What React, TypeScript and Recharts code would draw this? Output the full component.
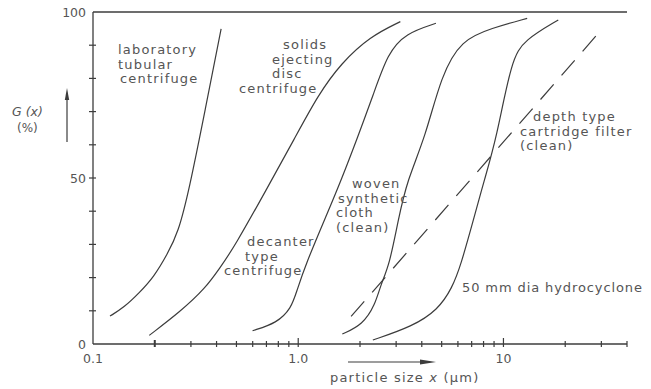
import { LineChart, Line, XAxis, YAxis, ReferenceLine } from "recharts";

// grade efficiency curves G(x) in %, particle size x in µm (log scale)
const tubularX = [0.121, 0.142, 0.168, 0.198, 0.23, 0.26, 0.294, 0.352, 0.421];
const tubularG = [8.4, 11.1, 15.4, 20.2, 27, 33.5, 46.4, 70.5, 94.9];

const discX = [0.188, 0.267, 0.353, 0.415, 0.488, 0.698, 0.962, 1.249, 1.62, 2.235, 3.145];
const discG = [2.6, 9.8, 16.8, 22.9, 29.2, 46.4, 62, 75, 84.6, 92.6, 97.1];

const decanterX = [0.599, 0.787, 0.925, 0.982, 1.085, 1.409, 1.62, 1.94, 2.32, 2.73, 3.337, 4.69];
const decanterG = [4.0, 6.3, 10.8, 15.8, 23.9, 40.4, 49.4, 62, 75, 87.6, 93.6, 96.6];

const clothX = [1.64, 2.06, 2.37, 2.52, 2.786, 3.07, 3.4, 4.16, 4.98, 6.24, 8.74, 13.05];
const clothG = [3.0, 5.8, 11.8, 17.8, 23.9, 37.4, 49.4, 62.2, 81, 91.6, 95.1, 98.1];

const cycloneX = [2.31, 3.61, 4.79, 5.62, 6.21, 7.14, 8.07, 9.25, 10.94, 12.65, 18.5];
const cycloneG = [1.2, 5.3, 10.3, 16.8, 23.9, 37.4, 49.4, 62, 85.6, 91.6, 97.6];

const cartridgeX = [1.81, 29.0];
const cartridgeG = [8.3, 93.6];

const xTicks = [0.1, 0.2, 0.3, 0.4, 0.5, 0.6, 0.7, 0.8, 0.9, 1, 2, 3, 4, 5, 6, 7, 8, 9, 10, 20, 30, 40];
const xTickLabels: Record<string, string> = { "0.1": "0.1", "1": "1.0", "10": "10" };
const yTicks = [0, 10, 20, 30, 40, 50, 60, 70, 80, 90, 100];
const yTickLabels: Record<string, string> = { "0": "0", "50": "50", "100": "100" };

const zip = (xs: number[], gs: number[]) => xs.map((x, i) => ({ x, g: gs[i] }));

const INK = "#3c3c3c";
const TEXT = "#555";
const FONT = "'DejaVu Sans', sans-serif";

function XTick(props: any) {
  const { x, y, payload } = props;
  const v = payload.value;
  const label = xTickLabels[String(v)];
  const major = v === 1 || v === 10;
  return (
    <g>
      {v !== 0.1 && (
        <line
          x1={x}
          x2={x}
          y1={y - (major ? 6 : v === 0.2 ? 4 : 3)}
          y2={y + 3}
          stroke={INK}
          strokeWidth={v === 0.2 ? 2 : 1.2}
        />
      )}
      {label && (
        <text x={x} y={y + 19} textAnchor="middle" fontSize={12.5} fill={TEXT} fontFamily={FONT}>
          {label}
        </text>
      )}
    </g>
  );
}

function YTick(props: any) {
  const { x, y, payload } = props;
  const v = payload.value;
  const label = yTickLabels[String(v)];
  return (
    <g>
      {v !== 0 && v !== 100 && (
        <line x1={x - 4} x2={x + 3} y1={y} y2={y} stroke={INK} strokeWidth={1.2} />
      )}
      {label && (
        <text x={x - 7} y={y + 4.5} textAnchor="end" fontSize={12.5} fill={TEXT} fontFamily={FONT}>
          {label}
        </text>
      )}
    </g>
  );
}

function Note({ x, y, lines }: { x: number[]; y: number; lines: string[] }) {
  return (
    <>
      {lines.map((t, i) => (
        <text
          key={i}
          x={x[i]}
          y={y + i * 14.5}
          fontSize={13}
          letterSpacing={1.2}
          fill={TEXT}
          fontFamily={FONT}
        >
          {t}
        </text>
      ))}
    </>
  );
}

export default function App() {
  const series = [
    { key: "tubular", data: zip(tubularX, tubularG), dash: undefined },
    { key: "disc", data: zip(discX, discG), dash: undefined },
    { key: "decanter", data: zip(decanterX, decanterG), dash: undefined },
    { key: "cloth", data: zip(clothX, clothG), dash: undefined },
    { key: "cyclone", data: zip(cycloneX, cycloneG), dash: undefined },
    { key: "cartridge", data: zip(cartridgeX, cartridgeG), dash: "20 12" },
  ];
  return (
    <div style={{ position: "absolute", left: 0, top: 0, width: 651, height: 389, background: "#fff" }}>
      <LineChart width={651} height={389} margin={{ top: 12, right: 24, bottom: 44, left: 92 }}>
        <XAxis
          type="number"
          dataKey="x"
          scale="log"
          domain={[0.1, 40]}
          allowDataOverflow
          ticks={xTicks}
          interval={0}
          height={1}
          tickSize={0}
          tickMargin={0}
          tickLine={false}
          axisLine={{ stroke: INK, strokeWidth: 1.3 }}
          tick={<XTick />}
        />
        <YAxis
          type="number"
          dataKey="g"
          domain={[0, 100]}
          ticks={yTicks}
          interval={0}
          width={1}
          tickSize={0}
          tickMargin={0}
          tickLine={false}
          axisLine={{ stroke: INK, strokeWidth: 1.3 }}
          tick={<YTick />}
        />
        <ReferenceLine y={100} stroke={INK} strokeWidth={1.3} />
        {series.map((s) => (
          <Line
            key={s.key}
            data={s.data}
            dataKey="g"
            type="basis"
            stroke={INK}
            strokeWidth={1.2}
            strokeDasharray={s.dash}
            dot={false}
            activeDot={false}
            isAnimationActive={false}
          />
        ))}
      </LineChart>
      <svg
        width={651}
        height={389}
        style={{ position: "absolute", left: 0, top: 0, pointerEvents: "none" }}
      >
        <Note x={[118, 118, 120]} y={54} lines={["laboratory", "tubular", "centrifuge"]} />
        <Note x={[283, 272, 272, 239]} y={49} lines={["solids", "ejecting", "disc", "centrifuge"]} />
        <Note x={[247, 245, 224]} y={246} lines={["decanter", "type", "centrifuge"]} />
        <Note x={[352, 338, 336, 336]} y={188} lines={["woven", "synthetic", "cloth", "(clean)"]} />
        <Note x={[533, 520, 520]} y={121} lines={["depth type", "cartridge filter", "(clean)"]} />
        <text x={462} y={292} fontSize={13} letterSpacing={0.9} fill={TEXT} fontFamily={FONT}>
          50 mm  dia hydrocyclone
        </text>
        <text x={12} y={116} fontSize={12.5} fill={TEXT} fontFamily={FONT} fontStyle="italic">
          G (x)
        </text>
        <text x={17} y={132} fontSize={12} fill={TEXT} fontFamily={FONT}>
          (%)
        </text>
        <line x1={67} y1={142} x2={67} y2={98} stroke={INK} strokeWidth={1.2} />
        <polygon points="67,88 64.8,100 69.2,100" fill={INK} />
        <line x1={348} y1={362} x2={422} y2={362} stroke={INK} strokeWidth={1.2} />
        <polygon points="436,362 420,359.6 420,364.4" fill={INK} />
        <text x={330} y={382} fontSize={13} letterSpacing={1.2} fill={TEXT} fontFamily={FONT}>
          particle size <tspan fontStyle="italic">x</tspan> (µm)
        </text>
      </svg>
    </div>
  );
}
